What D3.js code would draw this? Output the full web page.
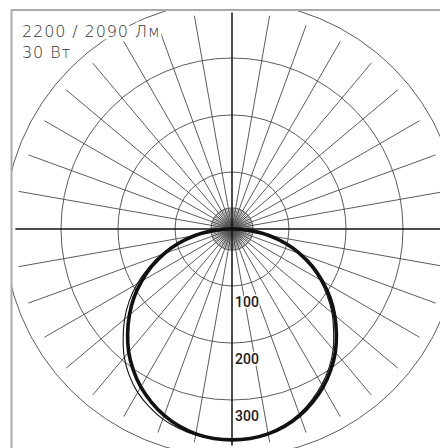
<!DOCTYPE html>
<html>
<head>
<meta charset="utf-8">
<script src="https://cdn.jsdelivr.net/npm/d3@7"></script>
<style>
  html, body { margin: 0; padding: 0; background: #fff; }
</style>
</head>
<body>
<svg id="ksk" width="440" height="448"></svg>
<script>
// angles from nadir, degrees
var angles = [0, 5, 10, 15, 20, 25, 30, 35, 40, 45, 50, 55, 60, 65, 70, 75, 80, 85, 90]
// cd/klm, thick curve (symmetric)
var planeA = [370, 369, 365, 358, 348, 335, 320, 302, 282, 259, 235, 210, 183, 156, 127, 97, 66, 35, 6]
// thin curve, left and right half
var planeBLeft = [370, 369, 367, 362, 355, 344, 331, 314, 294, 270, 246, 220, 192, 162, 132, 100, 68, 36, 6]
var planeBRight = [370, 369, 364, 356, 345, 331, 315, 297, 276, 252, 229, 204, 178, 151, 123, 94, 64, 34, 6]

var rings = [100, 200, 300, 400]
var ringLabels = ["100", "200", "300"]
var titleLines = ["2200 / 2090 Лм", "30 Вт"]

var svg = d3.select("#ksk")
var cx = 232, cy = 229
var r = d3.scaleLinear().domain([0, 400]).range([0, 228])
var rayEnd = 380, hub = 37

svg.append("defs").append("clipPath")
    .attr("id", "frame")
    .append("rect")
    .attr("x", 12).attr("y", 10)
    .attr("width", 460).attr("height", 460)

var g = svg.append("g").attr("clip-path", "url(#frame)")
var p = g.append("g").attr("transform", "translate(" + cx + "," + cy + ")")

function rad(deg) { return deg * Math.PI / 180 }

// fine rays inside the hub, every 5 deg
d3.range(0, 360, 5).forEach(function(a) {
    p.append("line")
        .attr("x1", 0).attr("y1", 0)
        .attr("x2", r(hub) * Math.sin(rad(a)))
        .attr("y2", r(hub) * Math.cos(rad(a)))
        .attr("stroke", "#555").attr("stroke-width", 0.8)
})
// main rays, every 10 deg
d3.range(0, 360, 10).forEach(function(a) {
    if (a % 90 == 0) return
    p.append("line")
        .attr("x1", 0).attr("y1", 0)
        .attr("x2", r(rayEnd) * Math.sin(rad(a)))
        .attr("y2", r(rayEnd) * Math.cos(rad(a)))
        .attr("stroke", "#4a4a4a").attr("stroke-width", 0.9)
})

p.append("circle").attr("r", r(hub))
    .attr("fill", "none").attr("stroke", "#4a4a4a").attr("stroke-width", 0.9)
p.selectAll("circle.ring")
    .data(rings)
    .enter().append("circle")
    .attr("class", "ring")
    .attr("r", function(d) { return r(d) })
    .attr("fill", "none")
    .attr("stroke", "#4a4a4a")
    .attr("stroke-width", 0.9)

// axes
p.append("line")
    .attr("x1", -r(rayEnd)).attr("x2", r(rayEnd) + 40)
    .attr("y1", 0).attr("y2", 0)
    .attr("stroke", "#111").attr("stroke-width", 1.5)
p.append("line")
    .attr("x1", 0).attr("x2", 0)
    .attr("y1", -r(rayEnd)).attr("y2", r(rayEnd))
    .attr("stroke", "#111").attr("stroke-width", 1.5)

// intensity curves
function curvePoints(left, right) {
    var pts = []
    for (var i = angles.length - 1; i >= 0; i--) pts.push([Math.PI + rad(angles[i]), r(left[i])])
    for (var j = 1; j < angles.length; j++) pts.push([Math.PI - rad(angles[j]), r(right[j])])
    return pts
}
var line = d3.lineRadial()
    .angle(function(d) { return d[0] })
    .radius(function(d) { return d[1] })
    .curve(d3.curveCatmullRomClosed)

p.append("path")
    .datum(curvePoints(planeBLeft, planeBRight))
    .attr("d", line)
    .attr("fill", "none").attr("stroke", "#111").attr("stroke-width", 1.1)
p.append("path")
    .datum(curvePoints(planeA, planeA))
    .attr("d", line)
    .attr("fill", "none").attr("stroke", "#111").attr("stroke-width", 3.6)

// ring labels
p.selectAll("text.lbl")
    .data(ringLabels)
    .enter().append("text")
    .attr("class", "lbl")
    .attr("x", 3)
    .attr("y", function(d) { return r(+d) + 21 })
    .attr("font-family", "Roboto, sans-serif")
    .attr("font-weight", 500)
    .attr("font-size", 14)
    .attr("fill", "#1a1a1a")
    .attr("stroke", "#fff").attr("stroke-width", 3)
    .attr("paint-order", "stroke")
    .text(function(d) { return d })

// title
svg.selectAll("text.title")
    .data(titleLines)
    .enter().append("text")
    .attr("class", "title")
    .attr("x", 22)
    .attr("y", function(d, i) { return 37 + i * 21 })
    .attr("font-family", "'DejaVu Sans', sans-serif")
    .attr("font-weight", 200)
    .attr("font-size", 16)
    .attr("letter-spacing", 0.9)
    .attr("fill", "#333")
    .attr("stroke", "#fff").attr("stroke-width", 7)
    .attr("stroke-linejoin", "round")
    .attr("paint-order", "stroke")
    .text(function(d) { return d })

// frame
svg.append("path")
    .attr("d", "M11.5,460 L11.5,10 L460,10")
    .attr("fill", "none")
    .attr("stroke", "#aaa")
    .attr("stroke-width", 2)
</script>
</body>
</html>
